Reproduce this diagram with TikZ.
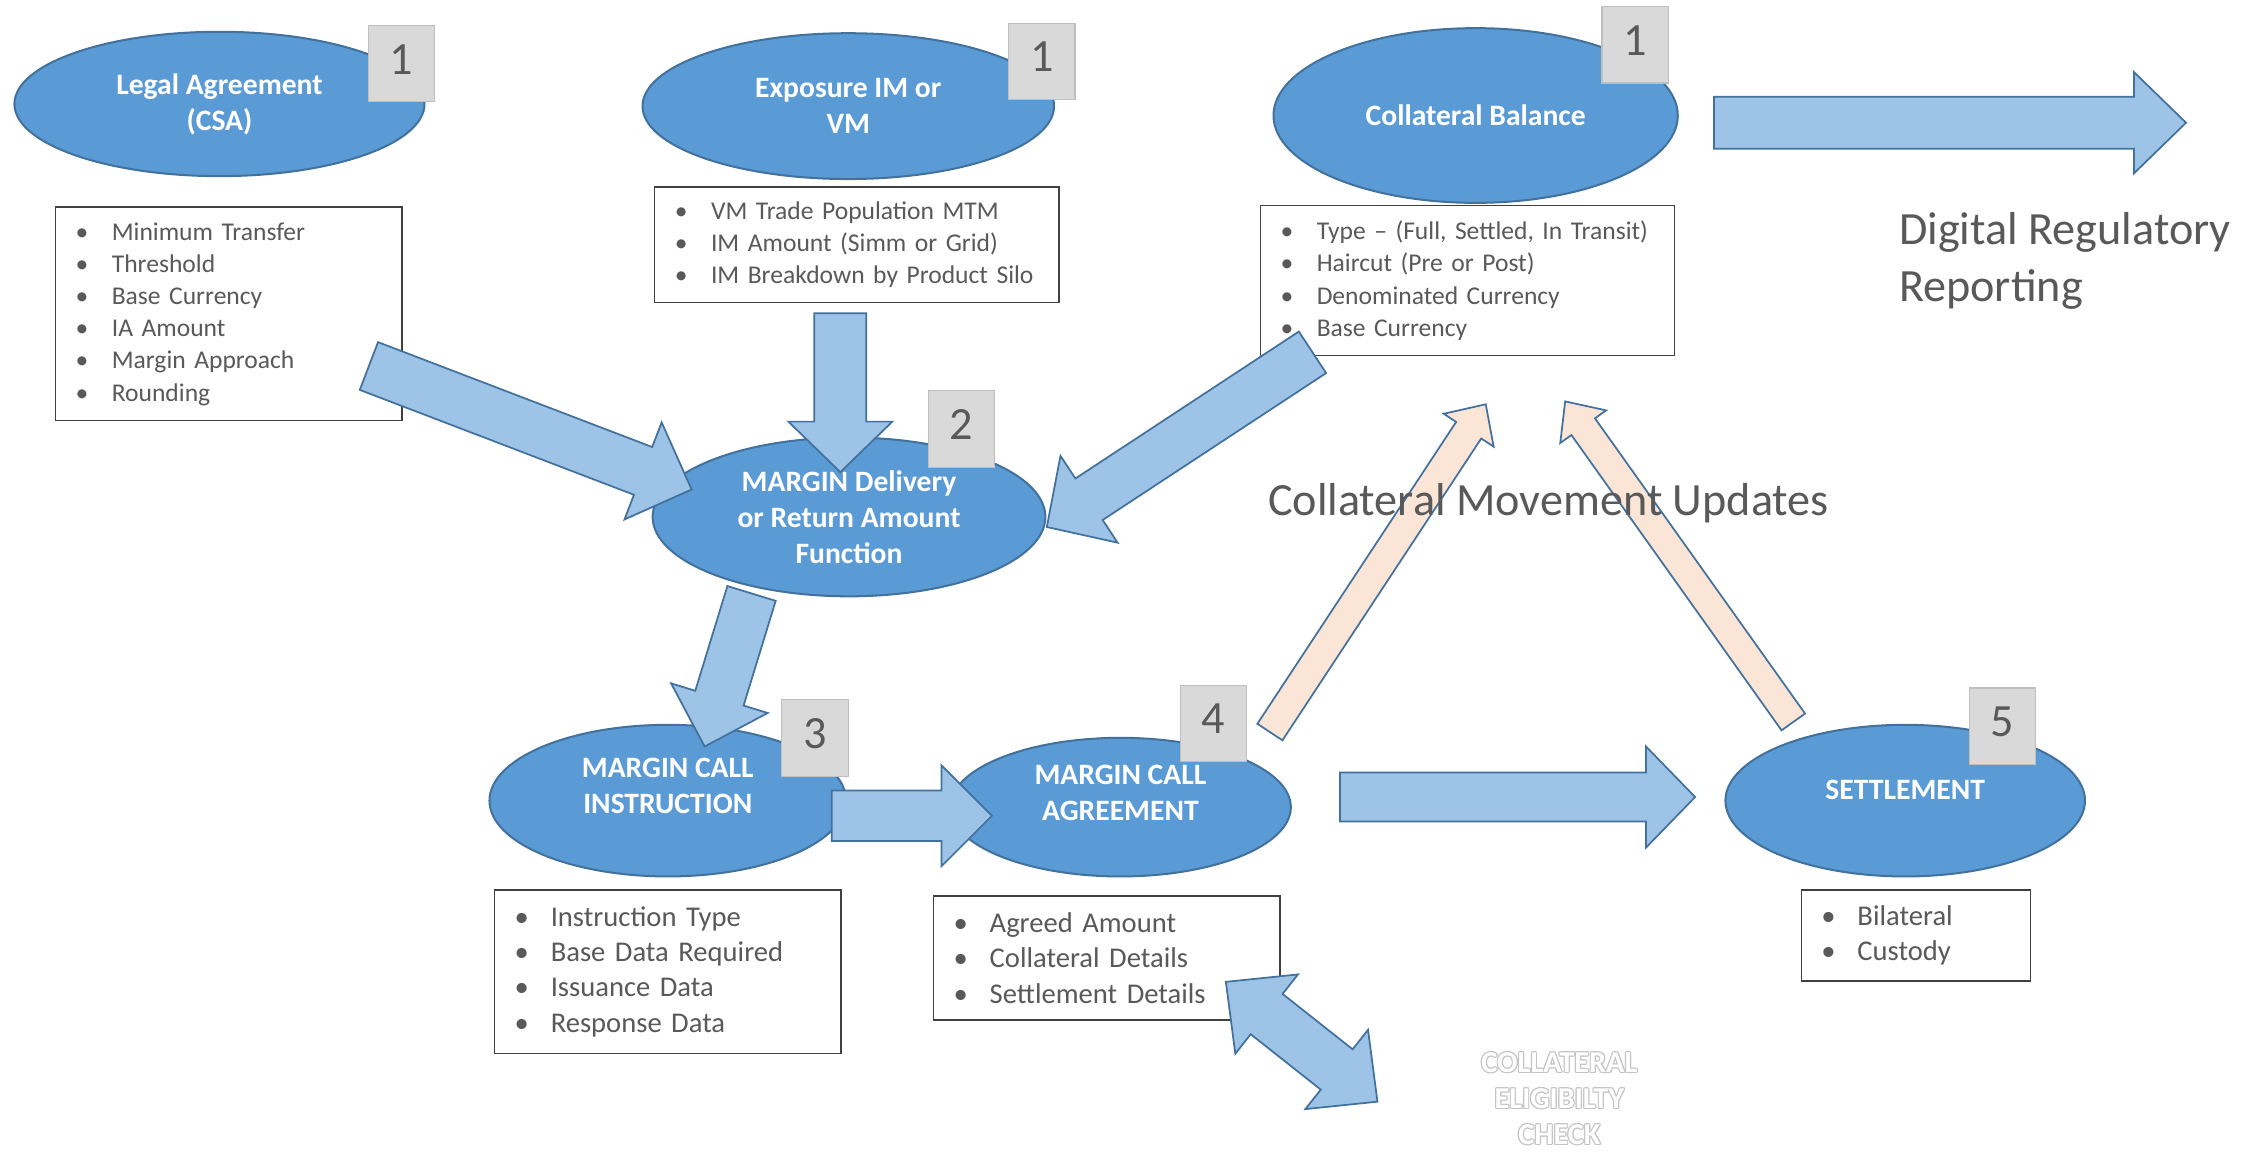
\documentclass[tikz,border=0pt]{standalone}
\usepackage{fontspec}
\setmainfont{Carlito}
\usetikzlibrary{shapes.geometric,calc}

\definecolor{ovalblue}{HTML}{5B9BD5}
\definecolor{ovalline}{HTML}{41719C}
\definecolor{arrowblue}{HTML}{9DC3E6}
\definecolor{peach}{HTML}{FBE5D6}
\definecolor{badgegray}{HTML}{D9D9D9}
\definecolor{badgeline}{HTML}{BFBFBF}
\definecolor{boxline}{HTML}{404040}
\definecolor{darktxt}{HTML}{595959}
\definecolor{checkline}{HTML}{C4C4C4}

\newcommand\itm[1]{\mbox{\makebox[25pt][l]{\textbullet}#1}}
\newcommand\fatarrow[6]{%
  \coordinate (fa-c) at ($(#3)!#6!(#2)$);
  \draw[#1] ($(#2)!#4!90:(#3)$) -- ($(fa-c)!#4!90:(#3)$) -- ($(fa-c)!#5!90:(#3)$) -- (#3)
    -- ($(fa-c)!#5!-90:(#3)$) -- ($(fa-c)!#4!-90:(#3)$) -- ($(#2)!#4!-90:(#3)$) -- cycle;}
\newcommand\twowayarrow[6]{%
  \coordinate (ta-c) at ($(#2)!#6!(#3)$);
  \coordinate (ta-d) at ($(#3)!#6!(#2)$);
  \draw[#1] (#2) -- ($(ta-c)!#5!90:(#3)$) -- ($(ta-c)!#4!90:(#3)$) -- ($(ta-d)!#4!90:(#3)$)
    -- ($(ta-d)!#5!90:(#3)$) -- (#3) -- ($(ta-d)!#5!-90:(#3)$) -- ($(ta-d)!#4!-90:(#3)$)
    -- ($(ta-c)!#4!-90:(#3)$) -- ($(ta-c)!#5!-90:(#3)$) -- cycle;}

\begin{document}
\begin{tikzpicture}[x=1pt,y=-1pt,
    oval/.style={ellipse, draw=ovalline, fill=ovalblue, line width=1.4pt, text=white,
      font=\bfseries\fontsize{20.5}{25}\selectfont, align=center, inner sep=0pt},
    badge/.style={rectangle, draw=badgeline, fill=badgegray, line width=0.8pt, text=darktxt,
      font=\fontsize{32}{36}\selectfont, minimum width=46pt, minimum height=53pt,
      inner sep=0pt, text depth=6pt},
    listbox/.style={rectangle, draw=boxline, fill=white, line width=0.9pt, text=darktxt,
      align=left, inner xsep=14pt, inner ysep=0pt, anchor=north west},
    smalllist/.style={listbox, font=\fontsize{17.7}{22.3}\selectfont},
    biglist/.style={listbox, font=\fontsize{19.8}{24.5}\selectfont},
    bluearrow/.style={draw=ovalline, fill=arrowblue, line width=1.2pt},
    peacharrow/.style={draw=ovalline, fill=peach, line width=1.2pt},
    bigtext/.style={text=darktxt, font=\fontsize{32}{40}\selectfont, align=left,
      anchor=base west, inner sep=0pt},
    checktxt/.style={font=\bfseries\fontsize{21}{25}\selectfont, align=center, inner sep=0pt}]
  \useasboundingbox (0,0) rectangle (1568,800);

  \node[smalllist, text width=212pt, minimum height=148pt] (csa-list) at (38,143)
    {\itm{Minimum Transfer}\\\itm{Threshold}\\\itm{Base Currency}\\\itm{IA Amount}\\\itm{Margin Approach}\\\itm{Rounding}};
  \node[smalllist, text width=252pt, minimum height=80pt] (expo-list) at (453,129)
    {\itm{VM Trade Population MTM}\\\itm{IM Amount (Simm or Grid)}\\\itm{IM Breakdown by Product Silo}};
  \node[smalllist, text width=259pt, minimum height=104pt] (bal-list) at (872.5,142)
    {\itm{Type – (Full, Settled, In Transit)}\\\itm{Haircut (Pre or Post)}\\\itm{Denominated Currency}\\\itm{Base Currency}};
  \node[biglist, text width=212pt, minimum height=113pt] (mci-list) at (342,616)
    {\itm{Instruction Type}\\\itm{Base Data Required}\\\itm{Issuance Data}\\\itm{Response Data}};
  \node[biglist, text width=212pt, minimum height=86pt] (mca-list) at (646,620)
    {\itm{Agreed Amount}\\\itm{Collateral Details}\\\itm{Settlement Details}};
  \node[biglist, text width=131pt, minimum height=63pt] (stl-list) at (1247,616)
    {\itm{Bilateral}\\\itm{Custody}};

  \node[oval, minimum width=284pt, minimum height=100pt] (csa) at (152,72) {Legal Agreement\\(CSA)};
  \node[oval, minimum width=285pt, minimum height=101pt] (expo) at (587.5,73.5) {Exposure IM or\\VM};
  \node[oval, minimum width=280pt, minimum height=121pt] (bal) at (1022,80) {Collateral Balance};
  \node[oval, minimum width=272pt, minimum height=110pt] (mdr) at (588,358) {MARGIN Delivery\\or Return Amount\\Function};
  \node[oval, minimum width=247pt, minimum height=105pt, text depth=20pt] (mci) at (462.5,554.5) {MARGIN CALL\\INSTRUCTION};
  \node[oval, minimum width=236pt, minimum height=96pt, text depth=20pt] (mca) at (776,559) {MARGIN CALL\\AGREEMENT};
  \node[oval, minimum width=249pt, minimum height=105pt, text depth=15pt] (stl) at (1319.5,554.5) {SETTLEMENT};

  \coordinate (csa-out) at (255.5,253.5);
  \coordinate (mdr-in1) at (479,339);
  \coordinate (expo-out) at (582,217);
  \coordinate (mdr-in2) at (582,327);
  \coordinate (bal-out) at (909,244);
  \coordinate (mdr-in3) at (725,365);
  \coordinate (mdr-out) at (520.5,411);
  \coordinate (mci-in) at (488,517);
  \coordinate (mci-out) at (576,565);
  \coordinate (mca-in) at (687,565);
  \coordinate (mca-out) at (928,552);
  \coordinate (stl-in) at (1174,552);
  \coordinate (bal-rep) at (1187,85);
  \coordinate (rep-in) at (1514,85);
  \coordinate (mca-up) at (879.5,507);
  \coordinate (bal-in1) at (1029,280);
  \coordinate (stl-up) at (1242,500);
  \coordinate (bal-in2) at (1084,278);
  \coordinate (chk-a) at (849,680);
  \coordinate (chk-b) at (954,763);

  \fatarrow{bluearrow}{csa-out}{mdr-in1}{17.7pt}{36pt}{36pt}
  \fatarrow{bluearrow}{expo-out}{mdr-in2}{18pt}{36pt}{35pt}
  \fatarrow{bluearrow}{bal-out}{mdr-in3}{17.2pt}{36pt}{35pt}
  \fatarrow{bluearrow}{mdr-out}{mci-in}{17.5pt}{35pt}{35pt}
  \fatarrow{bluearrow}{mci-out}{mca-in}{17.5pt}{35pt}{35pt}
  \fatarrow{bluearrow}{mca-out}{stl-in}{17pt}{35pt}{34pt}
  \fatarrow{bluearrow}{bal-rep}{rep-in}{18pt}{35pt}{36pt}
  \fatarrow{peacharrow}{mca-up}{bal-in1}{10.4pt}{20.7pt}{21.5pt}
  \fatarrow{peacharrow}{stl-up}{bal-in2}{10pt}{19.5pt}{21.5pt}
  \twowayarrow{bluearrow}{chk-a}{chk-b}{17.8pt}{35pt}{36pt}

  \node[badge] (csa-no) at (278,44) {1};
  \node[badge] (expo-no) at (721.5,42.5) {1};
  \node[badge] (bal-no) at (1132.5,31) {1};
  \node[badge] (mdr-no) at (666,297) {2};
  \node[badge] (mci-no) at (564.5,511) {3};
  \node[badge] (mca-no) at (840.5,501) {4};
  \node[badge] (stl-no) at (1387,503) {5};

  \node[bigtext] (rep) at (1315,209) {Digital Regulatory\\Reporting};
  \node[bigtext] (moves) at (878,357) {Collateral Movement Updates};

  \coordinate (elig) at (1080,761);
  \foreach \dx/\dy in {-0.8/0,0.8/0,0/-0.8,0/0.8,-0.6/-0.6,0.6/0.6,-0.6/0.6,0.6/-0.6}
    \node[checktxt, text=checkline] at ($(elig)+(\dx,\dy)$) {COLLATERAL\\ELIGIBILTY\\CHECK};
  \node[checktxt, text=white] (elig-t) at (elig) {COLLATERAL\\ELIGIBILTY\\CHECK};
\end{tikzpicture}
\end{document}
